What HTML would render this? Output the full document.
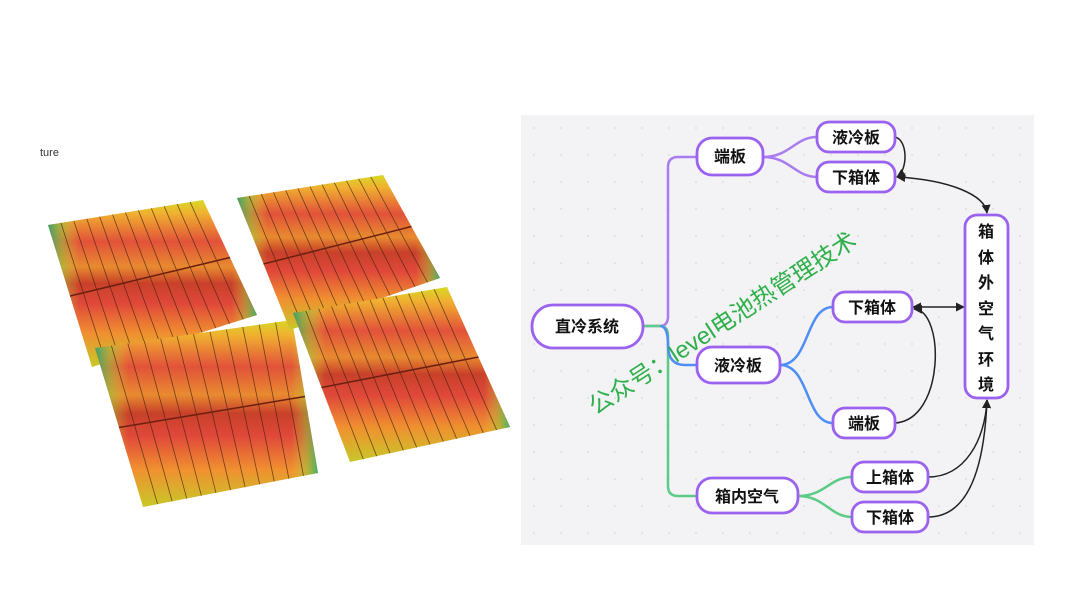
<!DOCTYPE html>
<html><head><meta charset="utf-8"><style>
html,body{margin:0;padding:0;background:#fff;width:1080px;height:615px;overflow:hidden}
body{position:relative;font-family:"Liberation Sans","Noto Sans CJK SC",sans-serif}
svg{position:absolute;left:0;top:0}
</style></head><body>
<svg width="1080" height="615" viewBox="0 0 1080 615" xmlns="http://www.w3.org/2000/svg">
<defs>
<linearGradient id="g" x1="0" y1="0" x2="0" y2="1">
<stop offset="0" stop-color="#d8d825"/><stop offset="0.08" stop-color="#f0b030"/><stop offset="0.25" stop-color="#e2523a"/><stop offset="0.4" stop-color="#e88a30"/><stop offset="0.5" stop-color="#c8402a"/><stop offset="0.62" stop-color="#e0483a"/><stop offset="0.8" stop-color="#f09030"/><stop offset="1" stop-color="#c8c828"/>
</linearGradient>
<linearGradient id="e" x1="0" y1="0" x2="1" y2="0">
<stop offset="0" stop-color="#2aa070" stop-opacity="0.9"/><stop offset="0.07" stop-color="#8ad040" stop-opacity="0.5"/><stop offset="0.15" stop-color="#e0e030" stop-opacity="0"/><stop offset="0.88" stop-color="#e0e030" stop-opacity="0"/><stop offset="0.95" stop-color="#8ad040" stop-opacity="0.5"/><stop offset="1" stop-color="#30b070" stop-opacity="0.9"/>
</linearGradient>
<pattern id="dots" x="521" y="115" width="27" height="27" patternUnits="userSpaceOnUse"><circle cx="13" cy="13" r="0.9" fill="#d8d8dc"/></pattern>
<marker id="ar" viewBox="0 0 10 10" refX="9" refY="5" markerWidth="6" markerHeight="6" orient="auto-start-reverse"><path d="M0,0 L10,5 L0,10 z" fill="#222"/></marker>
</defs>
<text x="40" y="156" font-size="11" fill="#333">ture</text>
<g id="packs"></g>

<rect x="521" y="115" width="513" height="430" fill="#f3f3f5"/>
<rect x="521" y="115" width="513" height="430" fill="url(#dots)"/>

<g fill="none" stroke-width="2.5">
<path d="M643,326 H660 Q668,326 668,316 V167 Q668,157 678,157 H697" stroke="#a97cf0"/>
<path d="M643,326 H660 Q668,326 668,336 V486 Q668,496 678,496 H697" stroke="#5ccb85"/>
<path d="M660,326 Q668,326 668,345 Q668,365 685,365 H697" stroke="#4f8ef5"/>
<path d="M763,157 C790,157 795,137 817,137 M763,157 C790,157 795,177 817,177" stroke="#a97cf0"/>
<path d="M780,365 C810,365 805,307 833,307 M780,365 C810,365 805,423 833,423" stroke="#4f8ef5"/>
<path d="M798,496 C825,496 830,477 852,477 M798,496 C825,496 830,517 852,517" stroke="#5ccb85"/>
</g>
<g fill="none" stroke="#222" stroke-width="1.5">
<path d="M895,137 C908,140 908,170 897,177" marker-end="url(#ar)"/>
<path d="M897,177 C950,180 985,195 987,213" marker-start="url(#ar)" marker-end="url(#ar)"/>
<path d="M913,307 H964" marker-start="url(#ar)" marker-end="url(#ar)"/>
<path d="M895,423 C945,420 945,310 914,309" marker-end="url(#ar)"/>
<path d="M928,477 C965,477 985,440 987,400" marker-end="url(#ar)"/>
<path d="M928,517 C975,517 985,450 987,400" marker-end="url(#ar)"/>
</g>
<g fill="#fff" stroke="#9b62f0" stroke-width="2.8">
<rect x="532" y="305" width="111" height="43" rx="21"/>
<rect x="697" y="138" width="66" height="37" rx="15"/>
<rect x="817" y="122" width="78" height="30" rx="12"/>
<rect x="817" y="162" width="78" height="30" rx="12"/>
<rect x="965" y="215" width="43" height="183" rx="12"/>
<rect x="697" y="347" width="83" height="36" rx="15"/>
<rect x="833" y="292" width="79" height="30" rx="12"/>
<rect x="833" y="408" width="62" height="30" rx="12"/>
<rect x="697" y="478" width="101" height="35" rx="15"/>
<rect x="852" y="462" width="76" height="30" rx="12"/>
<rect x="852" y="502" width="76" height="30" rx="12"/>
</g>
<g font-size="16" font-weight="bold" fill="#111" text-anchor="middle" font-family="'Liberation Sans','Noto Sans CJK SC',sans-serif">
<text x="587" y="332">直冷系统</text>
<text x="730" y="162">端板</text>
<text x="856" y="143">液冷板</text>
<text x="856" y="183">下箱体</text>
<text x="738" y="371">液冷板</text>
<text x="872" y="313">下箱体</text>
<text x="864" y="429">端板</text>
<text x="747" y="502">箱内空气</text>
<text x="890" y="483">上箱体</text>
<text x="890" y="523">下箱体</text>
<text x="986" y="237">箱</text><text x="986" y="263">体</text><text x="986" y="288">外</text><text x="986" y="314">空</text><text x="986" y="339">气</text><text x="986" y="365">环</text><text x="986" y="390">境</text>
</g>
<text transform="translate(727,330) rotate(-33)" text-anchor="middle" font-size="24" fill="#2fb04a" font-family="'Liberation Sans','Noto Sans CJK SC',sans-serif">公众号：level电池热管理技术</text>
</svg>
<script>
(function(){
var NS="http://www.w3.org/2000/svg",g=document.getElementById("packs");
var blocks=[
[[48,225],[203,200],[257,315],[92,367]],
[[95,348],[292,320],[318,473],[143,507]],
[[237,198],[383,175],[440,278],[290,330]],
[[293,313],[447,287],[510,427],[350,462]]];
function el(t,a){var e=document.createElementNS(NS,t);for(var k in a)e.setAttribute(k,a[k]);g.appendChild(e);return e;}
blocks.forEach(function(b){
var pts=b.map(function(p){return p.join(",")}).join(" ");
el("polygon",{points:pts,fill:"url(#g)"});
el("polygon",{points:pts,fill:"url(#e)"});
var n=12;
for(var i=1;i<n;i++){var t=i/n;
var x1=b[0][0]+(b[1][0]-b[0][0])*t,y1=b[0][1]+(b[1][1]-b[0][1])*t;
var x2=b[3][0]+(b[2][0]-b[3][0])*t,y2=b[3][1]+(b[2][1]-b[3][1])*t;
el("line",{x1:x1,y1:y1,x2:x2,y2:y2,stroke:"#3a2010","stroke-width":"0.8","stroke-opacity":"0.7"});}
var m1=[(b[0][0]+b[3][0])/2,(b[0][1]+b[3][1])/2],m2=[(b[1][0]+b[2][0])/2,(b[1][1]+b[2][1])/2];
el("line",{x1:m1[0],y1:m1[1],x2:m2[0],y2:m2[1],stroke:"#6a2010","stroke-width":"1.5"});
});
})();
</script>
</body></html>
